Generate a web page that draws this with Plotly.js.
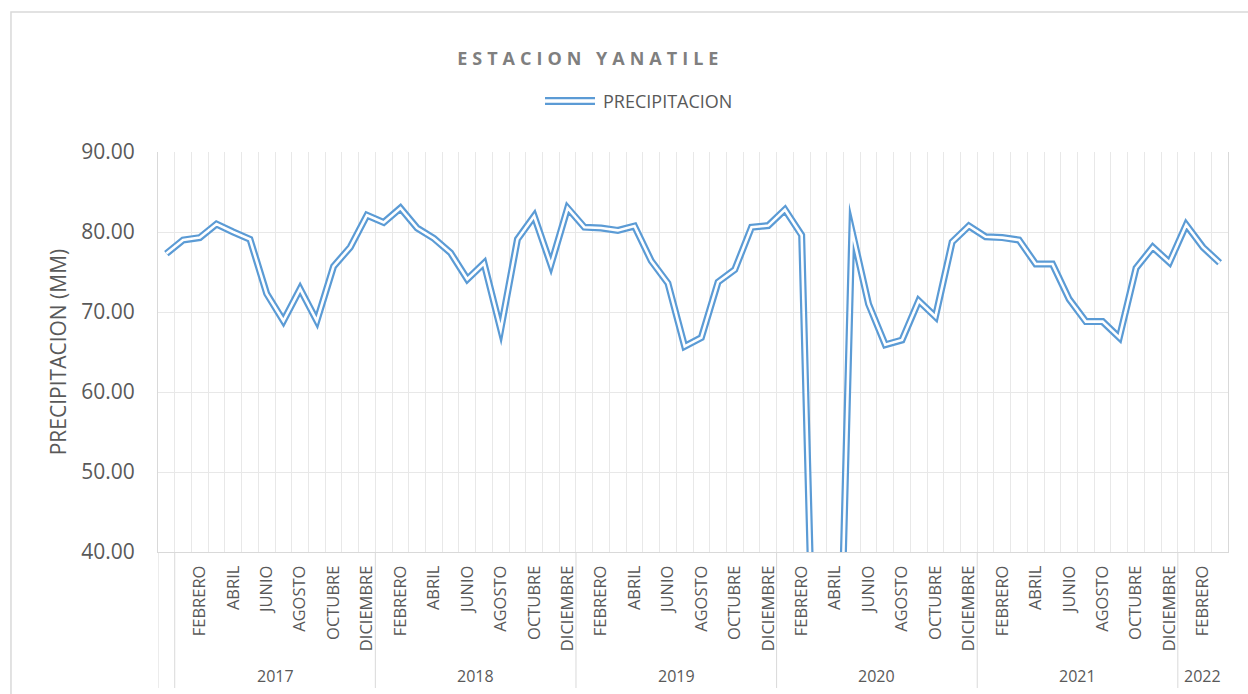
<!DOCTYPE html>
<html>
<head>
<meta charset="utf-8">
<script src="https://cdn.plot.ly/plotly-3.0.1.min.js"></script>
<style>
  html, body { margin: 0; padding: 0; background: #ffffff; }
  #chart { width: 1248px; height: 694px; }
  .gtitle { letter-spacing: 5px; }
  .scatterlayer .js-line { stroke-linejoin: miter !important; stroke-miterlimit: 30 !important; }
</style>
</head>
<body>
<div id="chart"></div>
<script>
// ---- Data ----
const meses = ["",
  "ENERO","FEBRERO","MARZO","ABRIL","MAYO","JUNIO","JULIO","AGOSTO","SEPTIEMBRE","OCTUBRE","NOVIEMBRE","DICIEMBRE",
  "ENERO","FEBRERO","MARZO","ABRIL","MAYO","JUNIO","JULIO","AGOSTO","SEPTIEMBRE","OCTUBRE","NOVIEMBRE","DICIEMBRE",
  "ENERO","FEBRERO","MARZO","ABRIL","MAYO","JUNIO","JULIO","AGOSTO","SEPTIEMBRE","OCTUBRE","NOVIEMBRE","DICIEMBRE",
  "ENERO","FEBRERO","MARZO","ABRIL","MAYO","JUNIO","JULIO","AGOSTO","SEPTIEMBRE","OCTUBRE","NOVIEMBRE","DICIEMBRE",
  "ENERO","FEBRERO","MARZO","ABRIL","MAYO","JUNIO","JULIO","AGOSTO","SEPTIEMBRE","OCTUBRE","NOVIEMBRE","DICIEMBRE",
  "ENERO","FEBRERO","MARZO"];
const anios = [""].concat(
  Array(12).fill("2017"), Array(12).fill("2018"), Array(12).fill("2019"),
  Array(12).fill("2020"), Array(12).fill("2021"), Array(3).fill("2022"));
const precipitacion = [77.3,
  79.0, 79.3, 81.0, 80.0, 79.1, 72.3, 68.9, 72.9, 68.9, 75.7, 78.1, 82.1,
  81.2, 83.0, 80.5, 79.2, 77.4, 74.1, 76.1, 67.8, 79.1, 82.0, 75.9, 83.0,
  80.6, 80.5, 80.2, 80.75, 76.4, 73.6, 65.7, 66.8, 73.75, 75.3, 80.6, 80.8,
  82.8, 79.6, 0, 0, 80.2, 71.0, 65.9, 66.5, 71.4, 69.4, 78.75, 80.75,
  79.4, 79.3, 79.0, 76.0, 76.0, 71.6, 68.8, 68.8, 66.8, 75.5, 78.1, 76.2,
  80.9, 78.1, 76.15];
const serieNombre = "PRECIPITACION";
const titulo = "ESTACION YANATILE";
const tituloY = "PRECIPITACION (MM)";

// ---- Derived ----
const idx = precipitacion.map((_, i) => i);
const tickIdx = idx.filter(i => i % 2 === 0);
const tickTxt = tickIdx.map(i => meses[i]);

// year groups
const grupos = [];
anios.forEach((a, i) => {
  if (!grupos.length || grupos[grupos.length - 1].anio !== a) grupos.push({anio: a, ini: i, fin: i});
  else grupos[grupos.length - 1].fin = i;
});

const gris = "#595959";
const lineaGris = "#d9d9d9";
const azul = "#5b9bd5";

const shapes = [];
const annotations = [];
grupos.forEach(g => {
  shapes.push({type: "line", xref: "x", yref: "paper", x0: g.ini - 0.5, x1: g.ini - 0.5, y0: 0, y1: -0.34,
    line: {color: lineaGris, width: 1}});
  if (g.anio) {
    annotations.push({xref: "x", yref: "paper", x: (g.ini + g.fin) / 2, y: -0.31, yanchor: "middle",
      text: g.anio, showarrow: false, font: {size: 16, color: gris, family: "Open Sans"}});
  }
});
// outer chart border
shapes.push({type: "rect", xref: "paper", yref: "paper", x0: -0.1374, x1: 1.06, y0: 1.35, y1: -0.42,
  line: {color: lineaGris, width: 1.5}, fillcolor: "rgba(0,0,0,0)"});
// legend sample (double line)
shapes.push({type: "line", xref: "paper", yref: "paper", x0: 0.3617, x1: 0.4084, y0: 1.1275, y1: 1.1275,
  line: {color: azul, width: 8}});
shapes.push({type: "line", xref: "paper", yref: "paper", x0: 0.3617, x1: 0.4084, y0: 1.1275, y1: 1.1275,
  line: {color: "#ffffff", width: 3.5}});
annotations.push({xref: "paper", yref: "paper", x: 0.4140, y: 1.1275, xanchor: "left", yanchor: "middle",
  text: serieNombre, showarrow: false, font: {size: 18, color: gris, family: "Open Sans"}});

const traces = [
  {x: idx, y: precipitacion, type: "scatter", mode: "lines", name: serieNombre,
   line: {color: azul, width: 7}, hoverinfo: "skip", showlegend: false},
  {x: idx, y: precipitacion, type: "scatter", mode: "lines", name: serieNombre,
   line: {color: "#ffffff", width: 2.6}, hoverinfo: "skip", showlegend: false}
];

const layout = {
  width: 1248, height: 694,
  margin: {l: 158, r: 20, t: 152, b: 142},
  paper_bgcolor: "#ffffff", plot_bgcolor: "#ffffff",
  font: {family: "Open Sans", color: gris},
  showlegend: false,
  title: {text: "<b>" + titulo + "</b>", x: 0.473, xref: "container", y: 0.916, yref: "container",
    xanchor: "center", yanchor: "middle", font: {size: 18, color: "#7f7f7f", family: "Open Sans"}},
  xaxis: {
    range: [-0.5, idx.length - 0.5], tickmode: "array", tickvals: tickIdx, ticktext: tickTxt,
    tickangle: -90, tickfont: {size: 16.5, color: gris}, showgrid: false, zeroline: false,
    ticks: "outside", ticklen: 6, tickcolor: "rgba(0,0,0,0)",
    showline: true, linecolor: lineaGris, linewidth: 1,
    minor: {tickmode: "linear", tick0: -0.5, dtick: 1, showgrid: true, gridcolor: "#e8e8e8", gridwidth: 1, ticklen: 0}
  },
  yaxis: {
    range: [40, 90], dtick: 10, tickformat: ".2f", tickfont: {size: 21, color: gris},
    showgrid: true, gridcolor: "#e8e8e8", gridwidth: 1, zeroline: false,
    ticks: "outside", ticklen: 18, tickcolor: "rgba(0,0,0,0)",
    showline: true, mirror: true, linecolor: lineaGris, linewidth: 1,
    title: {text: tituloY, font: {size: 21, color: gris}, standoff: 8}
  },
  shapes: shapes,
  annotations: annotations
};

Plotly.newPlot("chart", traces, layout, {displayModeBar: false, staticPlot: true});
</script>
</body>
</html>
